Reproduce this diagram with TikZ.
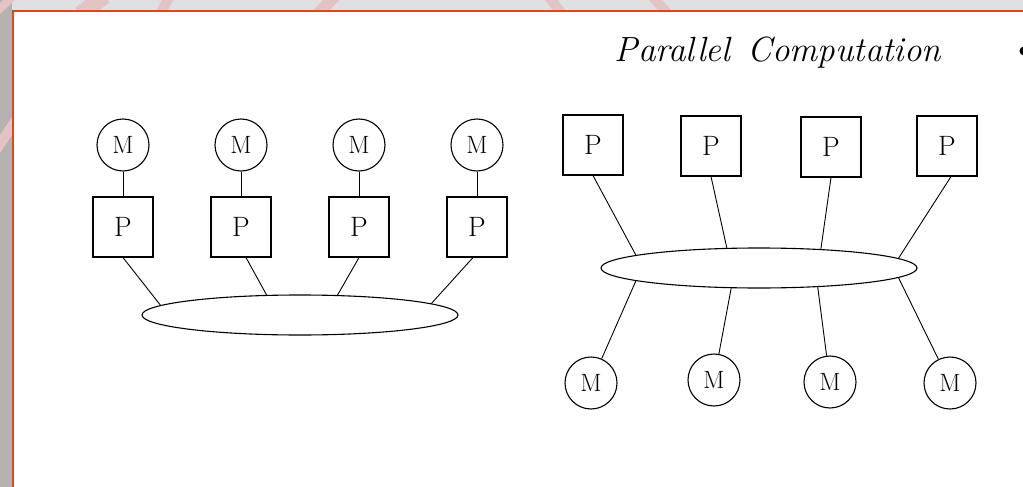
\documentclass[tikz,border=0pt]{standalone}
\usepackage{tikz}
\usetikzlibrary{shapes.geometric}

\definecolor{framered}{RGB}{214,74,32}
\definecolor{sidegray}{RGB}{182,178,176}
\definecolor{topgray}{RGB}{224,224,226}
\definecolor{stripe}{RGB}{226,196,196}

\tikzset{
	proc/.style={draw, line width=1.1pt, minimum width=60pt, minimum height=60pt, inner sep=0pt, font=\fontsize{28}{28}\selectfont},
	mem/.style={draw, circle, line width=1.1pt, minimum size=52pt, inner sep=0pt, font=\fontsize{25}{25}\selectfont},
	bus/.style={draw, ellipse, line width=1.1pt, minimum width=316pt, minimum height=40pt, inner sep=0pt},
	link/.style={line width=0.9pt}
}

\begin{document}
\begin{tikzpicture}[x=1pt,y=-1pt]
	\useasboundingbox (0,0) rectangle (1023,487);
	% slide backdrop and frame
	\fill[sidegray] (0,0) rectangle (1023,487);
	\fill[topgray] (12,0) rectangle (1023,11);
	\begin{scope}
		\clip (0,0) -- (1023,0) -- (1023,11) -- (12,11) -- (12,487) -- (0,487) -- cycle;
		\draw[stripe, line width=16pt] (80,14) -- (105,-4);
		\draw[stripe, line width=10pt] (160,14) -- (170,-4);
		\draw[stripe, line width=12pt] (318,14) -- (335,-4);
		\draw[stripe, line width=10pt] (548,-4) -- (562,14);
		\draw[stripe, line width=10pt] (652,-4) -- (668,14);
		\draw[stripe, line width=10pt] (-4,150) -- (16,120);
		\draw[stripe, line width=8pt] (-4,12) -- (16,-6);
	\end{scope}
	\fill[white] (12,11) rectangle (1023,487);
	\draw[framered, line width=2pt] (13,487) -- (13,11) -- (1023,11);

	\node[font=\fontsize{35}{40}\selectfont\itshape, anchor=base] (title) at (778,62) {Parallel\enspace Computation};
	\fill (1024,51) circle (4.5);

	% private memories
	\node[mem] (ml1) at (123,145) {M};
	\node[mem] (ml2) at (241,145) {M};
	\node[mem] (ml3) at (359,145) {M};
	\node[mem] (ml4) at (477,145) {M};
	\node[proc] (pl1) at (123,227) {P};
	\node[proc] (pl2) at (241,227) {P};
	\node[proc] (pl3) at (359,227) {P};
	\node[proc] (pl4) at (477,227) {P};
	\node[bus] (busl) at (300,315) {};
	\draw[link] (ml1) -- (pl1);
	\draw[link] (ml2) -- (pl2);
	\draw[link] (ml3) -- (pl3);
	\draw[link] (ml4) -- (pl4);
	\draw[link] (pl1.south) -- (busl.176);
	\draw[link] ([xshift=5pt]pl2.south) -- (busl.149);
	\draw[link] (pl3.south) -- (busl.28);
	\draw[link] ([xshift=-4pt]pl4.south) -- (busl.5);

	% shared memories
	\node[proc] (pr1) at (593,145) {P};
	\node[proc] (pr2) at (711,146) {P};
	\node[proc] (pr3) at (831,147) {P};
	\node[proc] (pr4) at (947,146) {P};
	\node[bus] (busr) at (759,268) {};
	\node[mem] (mr1) at (591,383) {M};
	\node[mem] (mr2) at (714,380) {M};
	\node[mem] (mr3) at (830,382) {M};
	\node[mem] (mr4) at (950,383) {M};
	\draw[link] (pr1.south) -- (busr.174);
	\draw[link] (pr2.south) -- (busr.148);
	\draw[link] (pr3.south) -- (busr.17);
	\draw[link] ([xshift=4pt]pr4.south) -- (busr.4);
	\draw[link] (busr.186) -- (mr1);
	\draw[link] (busr.216) -- (mr2);
	\draw[link] (busr.342) -- (mr3);
	\draw[link] (busr.356) -- (mr4);

\end{tikzpicture}
\end{document}
